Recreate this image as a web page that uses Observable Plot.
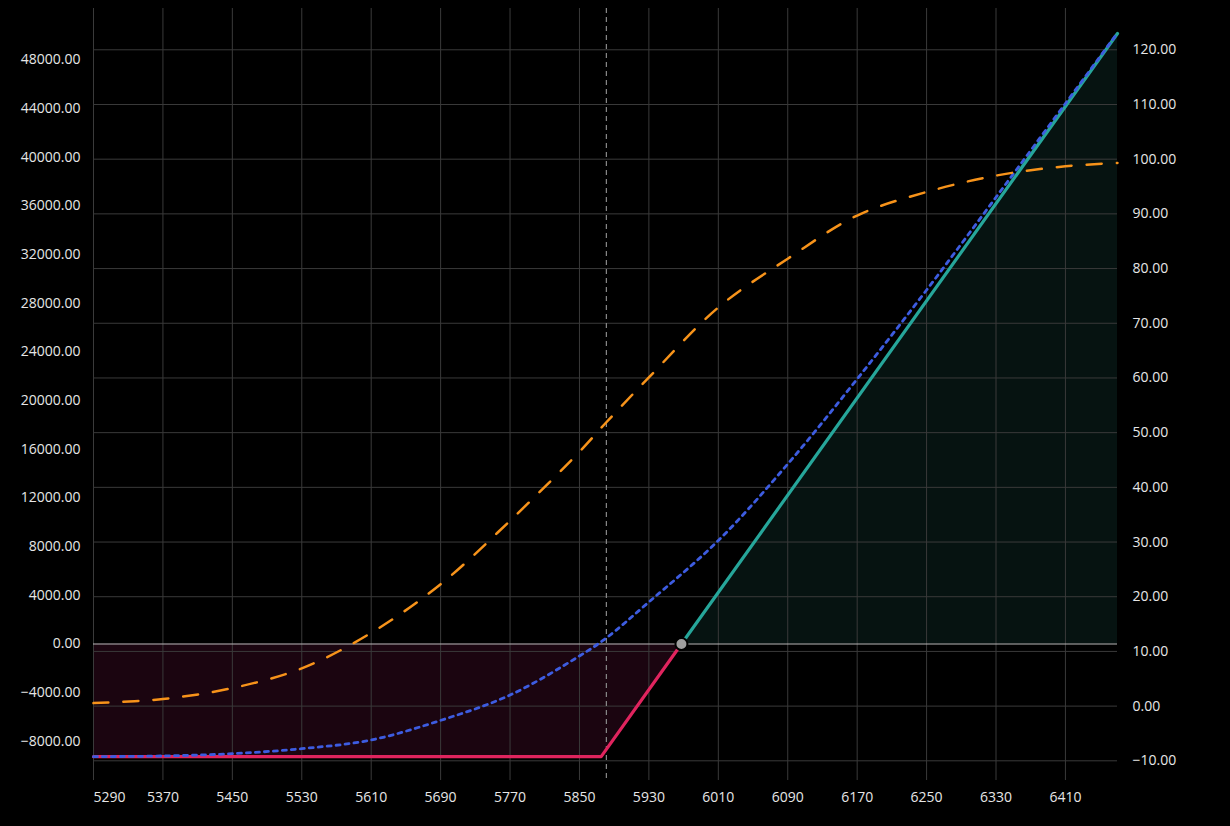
<!DOCTYPE html>
<html>
<head>
<meta charset="utf-8">
<script src="https://cdn.jsdelivr.net/npm/d3@7"></script>
<script src="https://cdn.jsdelivr.net/npm/@observablehq/plot@0.6"></script>
<style>
  html, body { margin: 0; padding: 0; background: #000; }
  #chart svg { display: block; }
</style>
</head>
<body>
<div id="chart"></div>
<script>
// Underlying prices where the curves were read
const prices = [5290, 5370, 5450, 5530, 5610, 5690, 5770, 5850, 5881, 5930, 6010, 6090, 6170, 6250, 6330, 6410, 6470];
// Theoretical P&L today (left axis)
const pnlToday = [-9254, -9197, -9008, -8597, -7883, -6274, -4190, -985, 500, 3450, 8500, 14785, 21770, 29080, 36700, 44400, 50200];
// Delta in % (right axis)
const deltaPct = [0.55, 1.3, 3.3, 6.9, 13.4, 22.3, 33.9, 46.5, 51.9, 60.1, 72.9, 81.8, 89.7, 94.0, 97.0, 98.7, 99.3];

// P&L at expiry (key points: start, strike, breakeven, end)
const expiryPrices = [5290, 5875, 5967.5, 6470];
const expiryPnl = [-9254, -9254, 0, 50150];

const currentPrice = 5881;
const breakeven = 5967.5;

// Axis ticks
const xTicks = [5290, 5370, 5450, 5530, 5610, 5690, 5770, 5850, 5930, 6010, 6090, 6170, 6250, 6330, 6410];
const pnlTicks = [-8000, -4000, 0, 4000, 8000, 12000, 16000, 20000, 24000, 28000, 32000, 36000, 40000, 44000, 48000];
const deltaTicks = [-10, 0, 10, 20, 30, 40, 50, 60, 70, 80, 90, 100, 110, 120];

// Axis extents (as shown)
const xDomain = [5290, 6470];
const pnlDomain = [-11213, 52206];
const deltaDomain = [-13.6, 127.55];

// Map the left-axis (P&L) values onto the shared y scale (delta units)
const pnlToY = d3.scaleLinear(pnlDomain, deltaDomain);
const fmt = d3.format(".2f");

const todayData = prices.map((p, i) => ({price: p, pnl: pnlToday[i], delta: deltaPct[i]}));
const expiryData = expiryPrices.map((p, i) => ({price: p, pnl: expiryPnl[i]}));
const lossData = expiryData.filter(d => d.pnl <= 0);
const profitData = expiryData.filter(d => d.pnl >= 0);

const colors = {
  loss: "#e0245e",
  profit: "#26a69a",
  today: "#3d5ce0",
  delta: "#f7931a",
  lossFill: "#1b0510",
  profitFill: "#061311",
  grid: "#3a3a3a",
  text: "#e6e6e6"
};

const chart = Plot.plot({
  width: 1230,
  height: 826,
  marginTop: 8,
  marginBottom: 46,
  marginLeft: 93,
  marginRight: 113,
  style: {background: "#000", color: colors.text, fontFamily: "'Open Sans', 'Noto Sans', sans-serif", fontSize: "14px"},
  x: {domain: xDomain, axis: null},
  y: {domain: deltaDomain, axis: null},
  marks: [
    Plot.areaY(lossData, {x: "price", y1: () => pnlToY(0), y2: d => pnlToY(d.pnl), fill: colors.lossFill}),
    Plot.areaY(profitData, {x: "price", y1: () => pnlToY(0), y2: d => pnlToY(d.pnl), fill: colors.profitFill}),
    Plot.gridX(xTicks, {stroke: colors.grid, strokeOpacity: 1}),
    Plot.gridY(deltaTicks, {stroke: colors.grid, strokeOpacity: 1}),
    Plot.ruleY([pnlToY(0)], {stroke: "#b8b8b8", strokeWidth: 1}),
    Plot.ruleX([currentPrice], {stroke: "#8a8a8a", strokeWidth: 1.2, strokeDasharray: "5,4"}),
    Plot.line(lossData, {x: "price", y: d => pnlToY(d.pnl), stroke: colors.loss, strokeWidth: 3.2}),
    Plot.line(profitData, {x: "price", y: d => pnlToY(d.pnl), stroke: colors.profit, strokeWidth: 3.2}),
    Plot.line(todayData, {x: "price", y: d => pnlToY(d.pnl), stroke: colors.today, strokeWidth: 2.8, strokeDasharray: "4,5", curve: "catmull-rom"}),
    Plot.line(todayData, {x: "price", y: "delta", stroke: colors.delta, strokeWidth: 2.5, strokeDasharray: "15,15", curve: "catmull-rom"}),
    Plot.dot([{price: breakeven, pnl: 0}], {x: "price", y: d => pnlToY(d.pnl), r: 6, fill: "#9e9e9e", stroke: "#000", strokeWidth: 2}),
    // Left axis labels (P&L)
    Plot.text(pnlTicks, {y: d => pnlToY(d), text: d => fmt(d), frameAnchor: "left", textAnchor: "end", dx: -13, fill: colors.text, fontSize: 14}),
    // Right axis labels (delta)
    Plot.text(deltaTicks, {y: d => d, text: d => fmt(d), frameAnchor: "right", textAnchor: "start", dx: 15, fill: colors.text, fontSize: 14}),
    // Bottom axis labels
    Plot.text(xTicks.slice(0, 1), {x: d => d, text: d => String(d), frameAnchor: "bottom", textAnchor: "start", dy: 21, fill: colors.text, fontSize: 14}),
    Plot.text(xTicks.slice(1), {x: d => d, text: d => String(d), frameAnchor: "bottom", textAnchor: "middle", dy: 21, fill: colors.text, fontSize: 14})
  ]
});

document.getElementById("chart").appendChild(chart);
</script>
</body>
</html>
